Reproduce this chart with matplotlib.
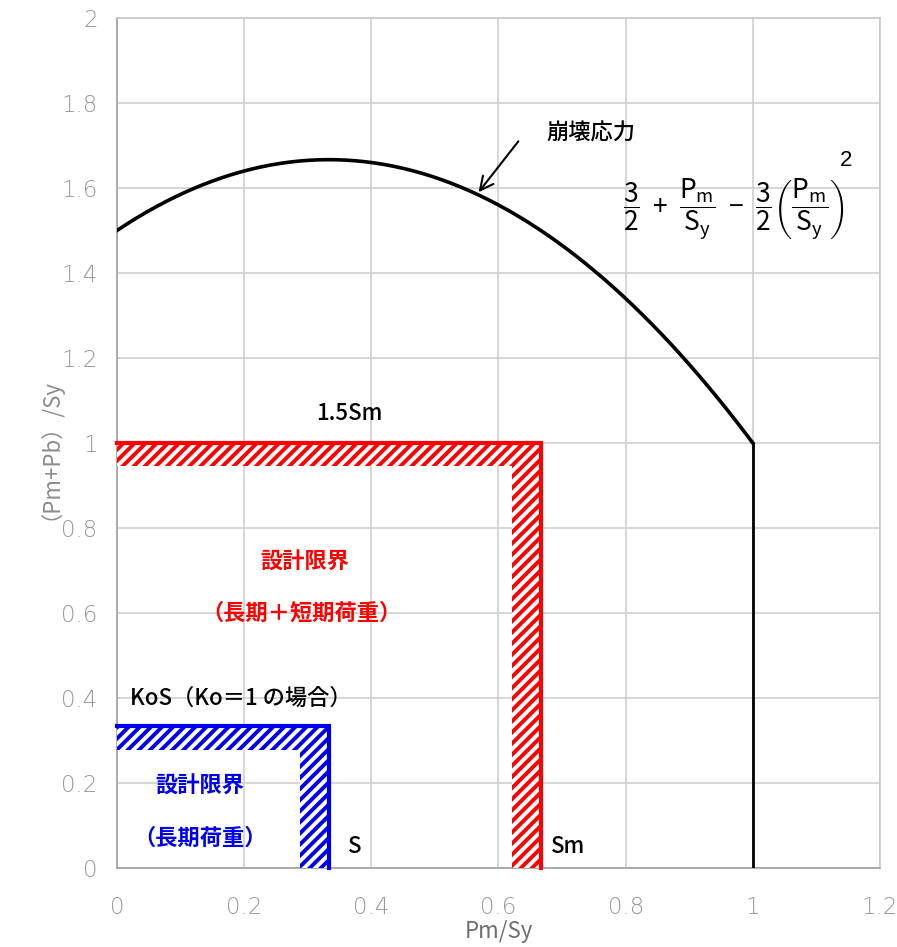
import numpy as np
import matplotlib
matplotlib.use("Agg")
import matplotlib.pyplot as plt
from matplotlib.patches import Polygon

plt.rcParams['font.family'] = ['Noto Sans CJK JP', 'DejaVu Sans']
plt.rcParams['mathtext.default'] = 'regular'
plt.rcParams['mathtext.fontset'] = 'custom'
plt.rcParams['mathtext.rm'] = 'Liberation Sans'
plt.rcParams['mathtext.it'] = 'Liberation Sans'
plt.rcParams['hatch.linewidth'] = 2.8

# data
x_ticks = [0, 0.2, 0.4, 0.6, 0.8, 1.0, 1.2]
x_tick_labels = ['0', '0.2', '0.4', '0.6', '0.8', '1', '1.2']
y_ticks = [0, 0.2, 0.4, 0.6, 0.8, 1.0, 1.2, 1.4, 1.6, 1.8, 2.0]
y_tick_labels = ['0', '0.2', '0.4', '0.6', '0.8', '1', '1.2', '1.4', '1.6', '1.8', '2']
collapse_x = np.linspace(0, 1, 201)
collapse_y = 1.5 + collapse_x - 1.5 * collapse_x ** 2
red_limit = (2 / 3, 1.0)      # Sm, 1.5Sm
blue_limit = (1 / 3, 1 / 3)   # S, KoS
band_w, band_h = 0.045, 0.055

fig = plt.figure(figsize=(8.97, 9.47), dpi=100)
ax = fig.add_axes([0.1304, 0.0834, 0.8506, 0.8976])
ax.set_xlim(0, 1.2)
ax.set_ylim(0, 2)
ax.set_xticks(x_ticks)
ax.set_xticklabels(x_tick_labels)
ax.set_yticks(y_ticks)
ax.set_yticklabels(y_tick_labels)
ax.grid(True, color='#d0d0d0', lw=1.2)
ax.set_axisbelow(True)
for s in ax.spines.values():
    s.set_color('#c8c8c8')
    s.set_linewidth(1.2)
ax.spines['left'].set_color('#a0a0a0')
ax.spines['bottom'].set_color('#a0a0a0')
ax.tick_params(length=0, labelsize=16.5, labelcolor='#999999', pad=14)
for lab in ax.get_xticklabels() + ax.get_yticklabels():
    lab.set_family(['DejaVu Sans'])
    lab.set_fontweight('light')
ax.tick_params(axis='x', pad=20)

ax.set_xlabel('Pm/Sy', fontsize=16, color='#6e6e6e', labelpad=1)
ax.set_ylabel('（Pm+Pb）/Sy', fontsize=16, color='#8c8c8c', labelpad=8)


def band(lim, color):
    xo, yo = lim
    verts = [(0, yo), (xo, yo), (xo, 0), (xo - band_w, 0),
             (xo - band_w, yo - band_h), (0, yo - band_h)]
    p = Polygon(verts, closed=True, facecolor='white', edgecolor=color,
                hatch='///', lw=0, zorder=3)
    ax.add_patch(p)
    ax.plot([0, xo, xo], [yo, yo, 0], color=color, lw=3, zorder=4,
            solid_joinstyle='miter', clip_on=False)


band(red_limit, '#ff0000')
band(blue_limit, '#0000ee')

ax.plot(collapse_x, collapse_y, color='black', lw=2.6, zorder=5)
ax.plot([1, 1], [1, 0], color='black', lw=2.0, zorder=5)

fs = 16
ax.text(0.366, 1.07, '1.5Sm', fontsize=fs, ha='center', va='center', fontweight='medium')
ax.text(0.296, 0.72, '設計限界', fontsize=fs, color='#ff0000', fontweight='bold', ha='center', va='center')
ax.text(0.29, 0.60, '（長期＋短期荷重）', fontsize=fs, color='#ff0000', fontweight='bold', ha='center', va='center')
ax.text(0.02, 0.40, 'KoS（Ko＝1 の場合）', fontsize=fs, ha='left', va='center', fontweight='medium')
ax.text(0.13, 0.193, '設計限界', fontsize=fs, color='#0000ee', fontweight='bold', ha='center', va='center')
ax.text(0.13, 0.07, '（長期荷重）', fontsize=fs, color='#0000ee', fontweight='bold', ha='center', va='center')
ax.text(0.374, 0.05, 'S', fontsize=fs, ha='center', va='center', fontweight='medium')
ax.text(0.71, 0.05, 'Sm', fontsize=fs, ha='center', va='center', fontweight='medium')
ax.text(0.745, 1.73, '崩壊応力', fontsize=fs, ha='center', va='center', fontweight='medium')
ax.annotate('', xy=(0.566, 1.585), xytext=(0.634, 1.715),
            arrowprops=dict(arrowstyle='->', lw=1.5, color='black', mutation_scale=24))
ax.text(0.97, 1.55,
        r'$\dfrac{3}{2}\ +\ \dfrac{P_m}{S_y}\ -\ \dfrac{3}{2}\left(\dfrac{P_m}{S_y}\right)$',
        fontsize=19, ha='center', va='center')
ax.text(1.147, 1.665, '2', fontsize=16, ha='center', va='center', family='Liberation Sans')

fig.savefig('out.png', dpi=100)
